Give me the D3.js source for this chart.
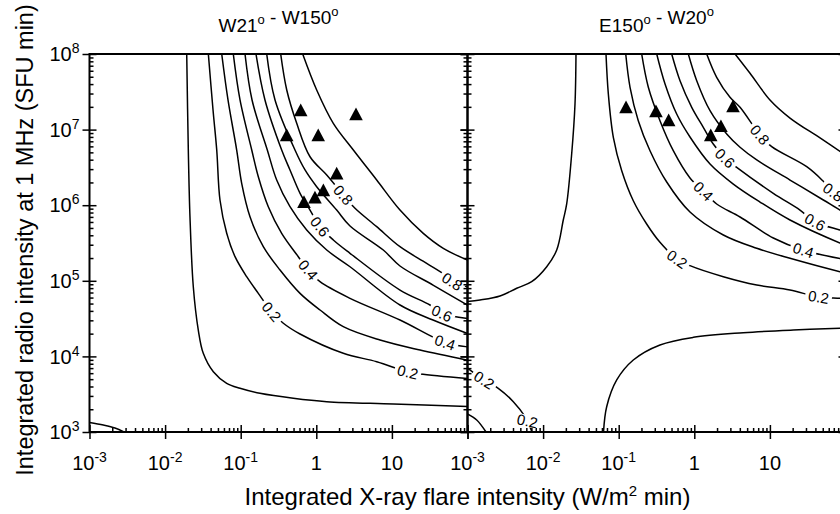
<!DOCTYPE html>
<html>
<head>
<meta charset="utf-8">
<script src="https://cdn.jsdelivr.net/npm/d3@7"></script>
<style>
  body { margin: 0; background: #fff; }
  text { font-family: "Liberation Sans", Arial, Helvetica, sans-serif; fill: #000; }
</style>
</head>
<body>
<svg id="chart" width="840" height="514"></svg>
<script>
// ---- data -------------------------------------------------------------
// Panel titles as [text, superscript] pieces.
const westTitle = [["W21", "o"], [" - W150", "o"]];
const eastTitle = [["E150", "o"], [" - W20", "o"]];

const xTickValues = [1e-3, 1e-2, 1e-1, 1, 10];
const yTickValues = [1e3, 1e4, 1e5, 1e6, 1e7, 1e8];

// Observed events: [X-ray intensity (W/m^2 min), radio intensity (SFU min)]
const westEvents = [
  [0.622, 1.82e7], [3.35, 1.61e7], [0.406, 8.5e6], [1.06, 8.5e6],
  [1.86, 2.64e6], [1.24, 1.59e6], [0.96, 1.27e6], [0.687, 1.11e6]
];
const eastEvents = [
  [0.125, 1.99e7], [0.311, 1.76e7], [0.458, 1.34e7],
  [1.65, 8.5e6], [2.25, 1.12e7], [3.25, 2.05e7]
];

// Probability contours; vertices are [log10 X, log10 R].
const westLines = [
  { level: 0.1, points: [[-1.714,8],[-1.693,6.730],[-1.671,5.848],[-1.627,4.922],[-1.561,4.349],[-1.495,4.041],[-1.362,3.797],[-1.185,3.644],[-1.009,3.578],[-0.745,3.512],[-0.304,3.446],[0.138,3.401],[1.019,3.370],[2.0,3.336]] },
  { level: 0.2, points: [[-1.428,8],[-1.366,7.259],[-1.317,6.730],[-1.274,6.069],[-1.185,5.628],[-1.075,5.319],[-0.921,5.054],[-0.767,4.834],[-0.590,4.591],[-0.436,4.438],[-0.215,4.296],[0.357,4.041],[0.799,3.930],[1.213,3.793],[1.372,3.767],[2.0,3.708]] },
  { level: 0.3, points: [[-1.251,8],[-1.168,7.392],[-1.053,6.730],[-0.987,6.290],[-0.877,5.848],[-0.701,5.451],[-0.480,5.143],[-0.215,4.834],[0.049,4.614],[0.357,4.393],[0.843,4.217],[1.372,4.084],[2.0,3.950]] },
  { level: 0.4, points: [[-1.098,8],[-1.009,7.392],[-0.854,6.730],[-0.767,6.377],[-0.635,5.980],[-0.458,5.628],[-0.238,5.319],[-0.106,5.143],[0.049,4.988],[0.446,4.768],[1.107,4.481],[1.703,4.184],[2.0,4.126]] },
  { level: 0.5, points: [[-0.943,8],[-0.850,7.392],[-0.648,6.730],[-0.524,6.333],[-0.348,5.980],[-0.127,5.672],[0.138,5.407],[0.446,5.186],[1.107,4.680],[1.544,4.481],[2.0,4.303]] },
  { level: 0.6, points: [[-0.798,8],[-0.679,7.392],[-0.458,6.730],[-0.348,6.466],[-0.215,6.157],[-0.083,5.936],[0.049,5.716],[0.225,5.540],[0.446,5.364],[1.107,4.878],[1.504,4.680],[1.659,4.570],[2.0,4.502]] },
  { level: 0.7, points: [[-0.656,8],[-0.546,7.392],[-0.282,6.730],[-0.149,6.466],[0.005,6.245],[0.270,5.936],[0.446,5.725],[0.886,5.407],[1.107,5.196],[1.544,4.944],[2.0,4.678]] },
  { level: 0.8, points: [[-0.471,8],[-0.391,7.524],[-0.259,7.083],[-0.083,6.641],[0.138,6.399],[0.357,6.135],[0.512,5.959],[0.799,5.716],[1.107,5.451],[1.460,5.231],[1.703,5.077],[1.795,4.990],[2.0,4.920]] },
  { level: 0.9, points: [[-0.180,8],[0.005,7.524],[0.225,7.083],[0.490,6.730],[0.799,6.333],[1.107,5.936],[1.415,5.628],[1.680,5.430],[2.0,5.273]] },
  { level: 0.1, points: [[-3,3.125],[-2.817,3.092],[-2.663,3.053],[-2.544,3.0]] }
];

const eastLines = [
  { level: 0.1, points: [[-1.565,8],[-1.578,7.339],[-1.622,6.677],[-1.688,6.016],[-1.733,5.804],[-1.820,5.407],[-1.952,5.186],[-2.151,4.988],[-2.349,4.901],[-2.570,4.799],[-2.835,4.746],[-3,4.726]] },
  { level: 0.1, points: [[-1.201,3.0],[-1.159,3.334],[-1.026,3.688],[-0.807,3.952],[-0.454,4.151],[-0.013,4.252],[0.648,4.313],[1.310,4.349],[1.927,4.372],[2.0,4.376]] },
  { level: 0.2, points: [[-1.168,8],[-1.137,7.471],[-1.071,6.898],[-0.960,6.456],[-0.807,6.059],[-0.630,5.751],[-0.454,5.509],[-0.229,5.288],[-0.057,5.200],[0.384,5.054],[0.826,4.944],[1.266,4.878],[1.640,4.786],[1.927,4.768],[2.0,4.759]] },
  { level: 0.2, points: [[-3,3.846],[-2.782,3.688],[-2.593,3.578],[-2.394,3.401],[-2.239,3.202],[-2.147,3.0]] },
  { level: 0.3, points: [[-3,3.238],[-2.878,3.159],[-2.755,3.0]] },
  { level: 0.3, points: [[-0.907,8],[-0.850,7.560],[-0.741,7.118],[-0.586,6.721],[-0.365,6.307],[-0.057,5.910],[0.384,5.606],[0.826,5.430],[1.266,5.298],[1.927,5.120],[2.0,5.103]] },
  { level: 0.4, points: [[-0.696,8],[-0.608,7.560],[-0.454,7.118],[-0.278,6.721],[-0.057,6.360],[0.119,6.188],[0.296,6.016],[0.605,5.844],[1.045,5.566],[1.438,5.407],[1.927,5.295],[2.0,5.285]] },
  { level: 0.5, points: [[-0.497,8],[-0.387,7.603],[-0.233,7.206],[-0.057,6.902],[0.208,6.545],[0.516,6.280],[0.869,6.042],[1.266,5.804],[1.927,5.500],[2.0,5.473]] },
  { level: 0.6, points: [[-0.299,8],[-0.189,7.647],[-0.034,7.295],[0.119,7.030],[0.251,6.809],[0.406,6.624],[0.561,6.501],[1.045,6.157],[1.398,5.936],[1.597,5.778],[1.927,5.672],[2.0,5.645]] },
  { level: 0.7, points: [[-0.079,8],[0.032,7.647],[0.208,7.250],[0.429,6.942],[0.605,6.766],[0.826,6.598],[1.266,6.333],[1.707,6.069],[1.927,5.936],[2.0,5.897]] },
  { level: 0.8, points: [[0.164,8],[0.296,7.692],[0.472,7.427],[0.605,7.295],[0.869,6.929],[1.024,6.774],[1.487,6.509],[1.703,6.320],[1.835,6.175],[2.0,6.095]] },
  { level: 0.9, points: [[0.539,8],[0.737,7.745],[1.001,7.392],[1.266,7.153],[1.663,6.889],[2.0,6.664]] }
];

// Where each level label sits: [contour index, log10 X of the label, optional fixed angle]
const westLabels = [[7, 0.357], [7, 1.795], [5, 0.049], [5, 1.659], [3, -0.106], [3, 1.703], [1, -0.590], [1, 1.213]];
const eastLabels = [[2, -0.229], [2, 1.640], [3, -2.782], [3, -2.21, 12], [6, 0.119], [6, 1.438], [8, 0.406], [8, 1.597], [10, 0.869], [10, 1.835]];

// ---- layout -----------------------------------------------------------
const W = 840, H = 514;
const plotTop = 54, plotBottom = 432, decade = 75.6;
const plotW = 5 * decade;

const svg = d3.select("#chart");
const defs = svg.append("defs");
const fmtLevel = d3.format(".1f");

function minorTicks(lo, hi) {
  const out = [];
  for (let k = lo; k < hi; k++) for (let m = 2; m <= 9; m++) out.push(m * Math.pow(10, k));
  return out;
}

function tickParts(v) {
  const e = Math.round(Math.log10(v));
  if (v === 1) return ["1", null];
  if (v === 10) return ["10", null];
  return ["10", String(e)];
}

function addTickText(sel, parts, opts) {
  const t = sel.append("text")
    .attr("x", opts.x).attr("y", opts.y)
    .attr("text-anchor", opts.anchor)
    .attr("font-size", 20);
  if (opts.dy) t.attr("dy", opts.dy);
  t.append("tspan").text(parts[0]);
  if (parts[1] !== null) t.append("tspan").attr("font-size", 14).attr("dy", -8).text(parts[1]);
}

const panels = [
  { x0: 89.5, title: westTitle, lines: westLines, labels: westLabels, events: westEvents, id: "w", leftLabels: true },
  { x0: 467.5, title: eastTitle, lines: eastLines, labels: eastLabels, events: eastEvents, id: "e", leftLabels: false }
];

panels.forEach(p => {
  const x = d3.scaleLog().domain([1e-3, 1e2]).range([p.x0, p.x0 + plotW]);
  const y = d3.scaleLog().domain([1e3, 1e8]).range([plotBottom, plotTop]);
  const g = svg.append("g");

  // clip region for the plot area
  const clipId = "clip-" + p.id;
  defs.append("clipPath").attr("id", clipId)
    .append("rect").attr("x", p.x0).attr("y", plotTop).attr("width", plotW).attr("height", plotBottom - plotTop);
  const plot = g.append("g").attr("clip-path", `url(#${clipId})`);

  const line = d3.line()
    .x(d => x(Math.pow(10, d[0])))
    .y(d => y(Math.pow(10, d[1])))
    .curve(d3.curveCatmullRom.alpha(0.5));

  p.lines.forEach((c, i) => {
    const path = plot.append("path")
      .attr("d", line(c.points))
      .attr("fill", "none")
      .attr("stroke", "#000")
      .attr("stroke-width", 1.5);
    const labs = p.labels.filter(l => l[0] === i);
    if (!labs.length) return;
    const node = path.node();
    const total = node.getTotalLength();
    const maskId = `mask-${p.id}-${i}`;
    const mask = defs.append("mask").attr("id", maskId)
      .attr("maskUnits", "userSpaceOnUse")
      .attr("x", 0).attr("y", 0).attr("width", W).attr("height", H);
    mask.append("rect").attr("width", W).attr("height", H).attr("fill", "#fff");
    labs.forEach(([, lx, fixedAngle]) => {
      const tx = x(Math.pow(10, lx));
      let best = 0, bd = Infinity;
      for (let s = 0; s <= total; s += 0.5) {
        const q = node.getPointAtLength(s);
        const d = Math.abs(q.x - tx);
        if (d < bd) { bd = d; best = s; }
      }
      const pt = node.getPointAtLength(best);
      const a = node.getPointAtLength(Math.max(0, best - 5));
      const b = node.getPointAtLength(Math.min(total, best + 5));
      let ang = Math.atan2(b.y - a.y, b.x - a.x) * 180 / Math.PI;
      if (ang > 90) ang -= 180;
      if (ang < -90) ang += 180;
      if (fixedAngle !== undefined) ang = fixedAngle;
      const tr = `translate(${pt.x},${pt.y}) rotate(${ang})`;
      const t = plot.append("text")
        .attr("transform", tr)
        .attr("text-anchor", "middle")
        .attr("dy", "0.36em")
        .attr("font-size", 15)
        .text(fmtLevel(c.level));
      const w = t.node().getComputedTextLength();
      mask.append("rect")
        .attr("transform", tr)
        .attr("x", -w / 2 - 3).attr("y", -6)
        .attr("width", w + 6).attr("height", 12)
        .attr("fill", "#000");
    });
    path.attr("mask", `url(#${maskId})`);
  });

  // event markers (filled triangles)
  plot.selectAll("path.event")
    .data(p.events)
    .join("path")
    .attr("class", "event")
    .attr("transform", d => `translate(${x(d[0])},${y(d[1])})`)
    .attr("d", "M0,-6.5L6.8,6.2L-6.8,6.2Z")
    .attr("fill", "#000");

  // ---- axes ----
  const xMajor = [1e-3, 1e-2, 1e-1, 1, 10, 100];
  const yMinor = minorTicks(3, 8);
  const xMinor = minorTicks(-3, 2);

  const axisStyle = sel => {
    sel.select(".domain").remove();
    sel.selectAll("line").attr("stroke", "#000").attr("stroke-width", 1.5);
    sel.selectAll("text").remove();
  };

  // bottom: majors cross the axis, minors point inward
  g.append("g").attr("transform", `translate(0,${plotBottom})`)
    .call(d3.axisBottom(x).tickValues(xMajor).tickSize(7).tickFormat(""))
    .call(axisStyle);
  g.append("g").attr("transform", `translate(0,${plotBottom})`)
    .call(d3.axisTop(x).tickValues(xMajor).tickSize(7).tickFormat(""))
    .call(axisStyle);
  g.append("g").attr("transform", `translate(0,${plotBottom})`)
    .call(d3.axisTop(x).tickValues(xMinor).tickSize(4).tickFormat(""))
    .call(axisStyle);

  // left edge of the panel: inward ticks
  g.append("g").attr("transform", `translate(${p.x0},0)`)
    .call(d3.axisRight(y).tickValues(yTickValues).tickSize(7).tickFormat(""))
    .call(axisStyle);
  g.append("g").attr("transform", `translate(${p.x0},0)`)
    .call(d3.axisRight(y).tickValues(yMinor).tickSize(4).tickFormat(""))
    .call(axisStyle);
  // outward major ticks on the left edge
  g.append("g").attr("transform", `translate(${p.x0},0)`)
    .call(d3.axisLeft(y).tickValues(yTickValues).tickSize(7).tickFormat(""))
    .call(axisStyle);
  // right edge of the panel: inward ticks
  g.append("g").attr("transform", `translate(${p.x0 + plotW},0)`)
    .call(d3.axisLeft(y).tickValues(yTickValues).tickSize(7).tickFormat(""))
    .call(axisStyle);
  g.append("g").attr("transform", `translate(${p.x0 + plotW},0)`)
    .call(d3.axisLeft(y).tickValues(yMinor).tickSize(4).tickFormat(""))
    .call(axisStyle);

  // frame
  g.append("rect")
    .attr("x", p.x0).attr("y", plotTop)
    .attr("width", plotW).attr("height", plotBottom - plotTop)
    .attr("fill", "none").attr("stroke", "#000").attr("stroke-width", 2);

  // x tick labels
  xTickValues.forEach(v => {
    addTickText(g, tickParts(v), { x: x(v), y: plotBottom + 38, anchor: "middle" });
  });

  // y tick labels (outer panel only)
  if (p.leftLabels) {
    yTickValues.forEach(v => {
      addTickText(g, tickParts(v), { x: p.x0 - 10, y: y(v), anchor: "end", dy: "0.36em" });
    });
  }

  // panel title
  const tt = g.append("text")
    .attr("x", p.x0 + plotW / 2).attr("y", 32)
    .attr("text-anchor", "middle")
    .attr("font-size", 19);
  p.title.forEach(([txt, sup]) => {
    tt.append("tspan").attr("dy", 0).text(txt);
    tt.append("tspan").attr("font-size", 13).attr("dy", -8).text(sup);
    tt.append("tspan").attr("dy", 8).text("");
  });
});

// axis titles
svg.append("text")
  .attr("transform", "translate(32.5,240) rotate(-90)")
  .attr("text-anchor", "middle")
  .attr("font-size", 23.5)
  .text("Integrated radio intensity at 1 MHz (SFU min)");

const xt = svg.append("text")
  .attr("x", 467.5).attr("y", 504.5)
  .attr("text-anchor", "middle")
  .attr("font-size", 24);
xt.append("tspan").text("Integrated X-ray flare intensity (W/m");
xt.append("tspan").attr("font-size", 15).attr("dy", -9).text("2");
xt.append("tspan").attr("dy", 9).text(" min)");
</script>
</body>
</html>
